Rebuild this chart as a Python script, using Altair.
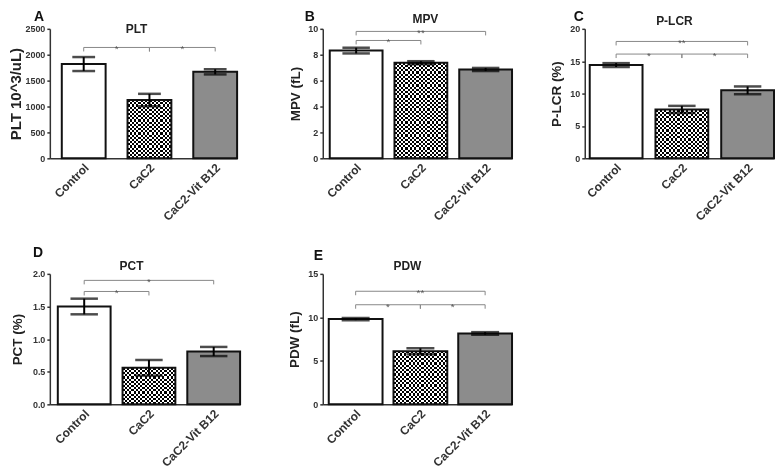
import altair as alt
import pandas as pd

groups = ["Control", "CaC2", "CaC2-Vit B12"]

plt_mean = [1820, 1125, 1670]
plt_err = [135, 120, 50]
mpv_mean = [8.32, 7.38, 6.86]
mpv_err = [0.22, 0.12, 0.12]
plcr_mean = [14.4, 7.55, 10.5]
plcr_err = [0.3, 0.55, 0.6]
pct_mean = [1.50, 0.56, 0.81]
pct_err = [0.12, 0.12, 0.07]
pdw_mean = [9.8, 6.1, 8.15]
pdw_err = [0.12, 0.35, 0.15]

# significance brackets: (from, to, level, label)
plt_sig = [("Control", "CaC2", 2140, "*"), ("CaC2", "CaC2-Vit B12", 2140, "*")]
mpv_sig = [("Control", "CaC2", 9.1, "*"), ("Control", "CaC2-Vit B12", 9.8, "**")]
plcr_sig = [("Control", "CaC2", 16.1, "*"), ("CaC2", "CaC2-Vit B12", 16.1, "*"),
            ("Control", "CaC2-Vit B12", 18.05, "**")]
pct_sig = [("Control", "CaC2", 1.73, "*"), ("Control", "CaC2-Vit B12", 1.9, "*")]
pdw_sig = [("Control", "CaC2", 11.45, "*"), ("CaC2", "CaC2-Vit B12", 11.45, "*"),
           ("Control", "CaC2-Vit B12", 13.0, "**")]

y_titles = ["PLT 10^3/uL)", "MPV (fL)", "P-LCR (%)", "PCT (%)", "PDW (fL)"]
panel_titles = ["PLT", "MPV", "P-LCR", "PCT", "PDW"]
panel_letters = ["A", "B", "C", "D", "E"]
y_ticks = [[0, 500, 1000, 1500, 2000, 2500], [0, 2, 4, 6, 8, 10], [0, 5, 10, 15, 20],
           [0, 0.5, 1.0, 1.5, 2.0], [0, 5, 10, 15]]

FONT = "Liberation Sans"
CELL = 2.2


def stripes(n, along_x):
    stops = []
    for i in range(n):
        c = "#ffffff" if i % 2 == 0 else "#000000"
        stops.append(alt.GradientStop(offset=i / n, color=c))
        stops.append(alt.GradientStop(offset=(i + 1) / n, color=c))
    if along_x:
        return alt.LinearGradient(gradient="linear", stops=stops, x1=0, x2=1, y1=0, y2=0)
    return alt.LinearGradient(gradient="linear", stops=stops, x1=0, x2=0, y1=0, y2=1)


def panel(idx, means, errs, sig, ymax, yfmt, geom, H, third_color,
          title_x, title_y, letter_x, letter_y, ytitle_x, ytitle_size):
    L, b, g = geom
    s = b + g
    pi = g / s
    po = L / (2 * s)
    W = L + 3 * b + 2 * g
    df = pd.DataFrame({"group": groups, "mean": means, "err": errs})
    df["lo"] = df["mean"] - df["err"]
    df["hi"] = df["mean"] + df["err"]

    xscale = alt.Scale(domain=groups, paddingInner=pi, paddingOuter=po, align=1)
    xaxis = alt.Axis(title=None, labelAngle=-45, labelAlign="right", labelBaseline="middle",
                     ticks=False, labelPadding=7, labelOffset=3, labelFontSize=12,
                     labelFont=FONT, labelFontWeight="bold", labelColor="#333",
                     domainColor="#333", domainWidth=1.5, labelOverlap=False)
    yscale = alt.Scale(domain=[0, ymax], nice=False, zero=True)
    yaxis = alt.Axis(values=y_ticks[idx], format=yfmt, title=y_titles[idx], titleX=ytitle_x,
                     titleBaseline="alphabetic", titleFontSize=ytitle_size, titleFont=FONT,
                     titleFontWeight="bold", titleColor="#222", labelFontSize=9, labelFont=FONT,
                     labelFontWeight="bold", labelColor="#333", tickSize=3, tickWidth=1.5,
                     tickColor="#333", domainColor="#333", domainWidth=1.5, grid=False,
                     labelPadding=2)

    def X(field="group"):
        return alt.X(f"{field}:N", scale=xscale, axis=xaxis, sort=groups)

    def Y(field):
        return alt.Y(f"{field}:Q", scale=yscale, axis=yaxis)

    base = alt.Chart(df)
    bars = base.mark_bar(strokeWidth=0).encode(
        x=X(), y=Y("mean"),
        color=alt.Color("group:N", scale=alt.Scale(domain=groups, range=["#ffffff", "#808080", third_color]),
                        legend=None))
    # checker pattern for the CaC2 bar
    cac = means[1]
    n_x = max(2, round(b / CELL))
    n_y = max(2, round(cac / ymax * H / CELL))
    chk1 = base.transform_filter(alt.datum.group == "CaC2").mark_bar(
        fill=stripes(n_x, True), strokeWidth=0).encode(x=X(), y=Y("mean"))
    chk2 = base.transform_filter(alt.datum.group == "CaC2").mark_bar(
        fill=stripes(n_y, False), strokeWidth=0, blend="difference").encode(x=X(), y=Y("mean"))
    outline = base.mark_bar(fillOpacity=0, stroke="#111", strokeWidth=2).encode(x=X(), y=Y("mean"))

    ebar = base.mark_rule(color="#000", strokeWidth=2).encode(x=X(), y=Y("lo"), y2="hi")
    caps = base.transform_fold(["lo", "hi"], as_=["k", "v"]).mark_tick(
        orient="horizontal", size=b * 0.52, thickness=2.5, color="#000").encode(x=X(), y=Y("v"))

    drop = ymax * 4 / H
    sdf = pd.DataFrame(sig, columns=["a", "b", "level", "label"])
    sdf["low"] = sdf["level"] - drop
    ia = sdf["a"].map(groups.index)
    ib = sdf["b"].map(groups.index)
    sdf["span"] = ib - ia
    sdf["mid"] = [groups[(i + j) // 2] for i, j in zip(ia, ib)]
    sb = alt.Chart(sdf)
    hline = sb.mark_rule(color="#888", strokeWidth=1).encode(x=X("a"), x2="b:N", y=Y("level"))
    vt = sb.transform_fold(["a", "b"], as_=["k", "end"]).mark_rule(color="#888", strokeWidth=1).encode(
        x=X("end"), y=Y("level"), y2="low")
    star_full = sb.transform_filter(alt.datum.span == 2).mark_text(
        fontSize=10, font=FONT, color="#555", baseline="alphabetic", dy=5).encode(
        x=X("mid"), y=Y("level"), text="label:N")
    star_half = sb.transform_filter(alt.datum.span == 1).mark_text(
        fontSize=10, font=FONT, color="#555", baseline="alphabetic", dy=5, dx=s / 2).encode(
        x=X("a"), y=Y("level"), text="label:N")

    lab = pd.DataFrame({"letter": [panel_letters[idx]], "name": [panel_titles[idx]]})
    letter = alt.Chart(lab).mark_text(
        fontSize=14, font=FONT, fontWeight="bold", align="left", baseline="alphabetic",
        color="#111").encode(text="letter:N", x=alt.value(letter_x), y=alt.value(letter_y))
    name = alt.Chart(lab).mark_text(
        fontSize=12, font=FONT, fontWeight="bold", align="center", baseline="alphabetic",
        color="#222").encode(text="name:N", x=alt.value(title_x), y=alt.value(title_y))

    layers = [bars, chk1, chk2, outline, ebar, caps, hline, vt]
    if (sdf["span"] == 2).any():
        layers.append(star_full)
    if (sdf["span"] == 1).any():
        layers.append(star_half)
    layers += [letter, name]
    return alt.layer(*layers).properties(width=W, height=H)


def spacer(w, h):
    return alt.Chart(pd.DataFrame({"v": [0]})).mark_point(opacity=0).encode(
        x=alt.X("v:Q", axis=None), y=alt.Y("v:Q", axis=None)).properties(width=w, height=h)


pA = panel(0, plt_mean, plt_err, plt_sig, 2500, "d", (12, 44, 22), 130, "#8c8c8c",
           87, 4, -16, -8, -29, 15)
pB = panel(1, mpv_mean, mpv_err, mpv_sig, 10, "d", (7, 53, 12), 130, "#a9a9ab",
           103, -6, -18, -8, -23, 13.5)
pC = panel(2, plcr_mean, plcr_err, plcr_sig, 20, "d", (5, 53, 13), 130, "#8c8c8c",
           90, -4, -11, -8, -24, 13.5)
pD = panel(3, pct_mean, pct_err, pct_sig, 2.0, ".1f", (8, 53, 12), 131, "#8c8c8c",
           82, -4, -17, -17, -28, 13.5)
pE = panel(4, pdw_mean, pdw_err, pdw_sig, 15, "d", (6, 54, 11), 131, "#8c8c8c",
           85, -4, -9, -14, -24, 13.5)

chart = alt.concat(
    pA, spacer(83, 130), pB, spacer(73, 130), pC,
    pD, spacer(83, 131), pE,
    columns=5, spacing={"row": 116, "column": 0}, bounds="flush", align="each"
).properties(
    padding=0, background="white"
).configure_view(stroke="transparent")

chart.save("out.html", embed_options={"renderer": "svg", "actions": False})
